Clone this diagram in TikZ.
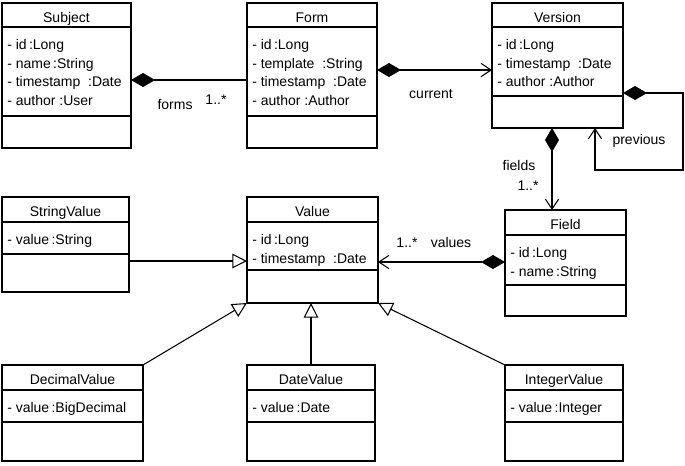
\documentclass[tikz,border=0pt]{standalone}
\usepackage{fontspec}
\setmainfont{Liberation Sans}
\usetikzlibrary{arrows.meta,calc,fit}

\tikzset{
classbox/.style={draw, line width=1pt, inner sep=0pt, outer sep=0pt},
classname/.style={inner sep=0pt, font=\fontsize{10.5}{14}\selectfont},
classattr/.style={inner sep=0pt, align=left, font=\fontsize{10.5}{14}\selectfont},
rolelabel/.style={inner sep=0pt, font=\fontsize{10.5}{14}\selectfont},
composite/.style={line width=0.8pt, {Diamond[length=18pt,width=10.5pt]}-{Straight Barb[length=7.5pt,width=10pt]}},
composeonly/.style={line width=0.8pt, {Diamond[length=18pt,width=10.5pt]}-},
inherit/.style={line width=0.8pt, -{Triangle[open,length=11pt,width=11pt]}}
}

% name, x, y, width, height, title line, divider, title, attributes
\newcommand{\umlclass}[9]{%
\node[classbox, fit={(#2,#3) (#2+#4,#3+#5)}] (#1) {};
\node[classname, anchor=base] (#1-name) at ($(#1.north)+(0,19)$) {#8};
\draw[line width=1pt] ($(#1.north west)+(0,#6)$) -- ($(#1.north east)+(0,#6)$);
\draw[line width=1pt] ($(#1.north west)+(0,#7)$) -- ($(#1.north east)+(0,#7)$);
\node[classattr, anchor=north west] (#1-attr) at ($(#1.north west)+(5,#6+12)$) {#9};
}

\begin{document}
\begin{tikzpicture}[x=0.75pt, y=-0.75pt]
\useasboundingbox (0,0) rectangle (685,465);

\umlclass{subject}{2}{3}{129}{145}{24}{113}{Subject}%
{- id\,:Long\\- name\,:String\\- timestamp\ \ :Date\\- author :User}
\umlclass{form}{247}{3}{130}{145}{24}{113}{Form}%
{- id\,:Long\\- template\ \ :String\\- timestamp\ \ :Date\\- author :Author}
\umlclass{version}{492}{3}{131}{125}{24}{93}{Version}%
{- id\,:Long\\- timestamp\ \ :Date\\- author :Author}
\umlclass{field}{505}{210}{121}{106}{25}{75}{Field}%
{- id\,:Long\\- name\,:String}
\umlclass{stringvalue}{2}{197}{127}{95}{25}{57}{StringValue}%
{- value\,:String}
\umlclass{value}{247}{197}{131}{106}{25}{73}{Value}%
{- id\,:Long\\- timestamp\ \ :Date}
\umlclass{decimalvalue}{2}{365}{141}{96}{25}{57}{DecimalValue}%
{- value\,:BigDecimal}
\umlclass{datevalue}{247}{365}{128}{96}{25}{57}{DateValue}%
{- value\,:Date}
\umlclass{integervalue}{505}{365}{118}{96}{25}{57}{IntegerValue}%
{- value\,:Integer}

% compositions
\draw[composeonly] ($(subject.north east)+(0,77)$) -- ($(form.north west)+(0,77)$);
\draw[composite] ($(form.north east)+(0,67)$) -- ($(version.north west)+(0,67)$);
\draw[composite] ($(version.north east)+(0,90)$) -| ++(60,77) -| ($(version.south west)+(103,0)$);
\draw[composite] ($(version.south west)+(60,0)$) -- ($(field.north west)+(47,0)$);
\draw[composite] ($(field.north west)+(0,52)$) -- ($(value.north east)+(0,65)$);

% generalisations
\draw[inherit] ($(stringvalue.north east)+(0,64)$) -- ($(value.north west)+(0,64)$);
\draw[inherit] (decimalvalue.north east) -- (value.south west);
\draw[inherit] (datevalue.north) -- (datevalue.north |- value.south);
\draw[inherit] (integervalue.north west) -- (value.south east);

% role names
\node[rolelabel] (forms-lbl) at (175,104) {forms};
\node[rolelabel] (forms-mult) at (216,100) {1..*};
\node[rolelabel] (current-lbl) at (431,94) {current};
\node[rolelabel] (previous-lbl) at (639,141) {previous};
\node[rolelabel] (fields-lbl) at (519,165) {fields};
\node[rolelabel] (fields-mult) at (528,186) {1..*};
\node[rolelabel] (values-mult) at (407,243) {1..*};
\node[rolelabel] (values-lbl) at (451,242) {values};
\end{tikzpicture}
\end{document}
